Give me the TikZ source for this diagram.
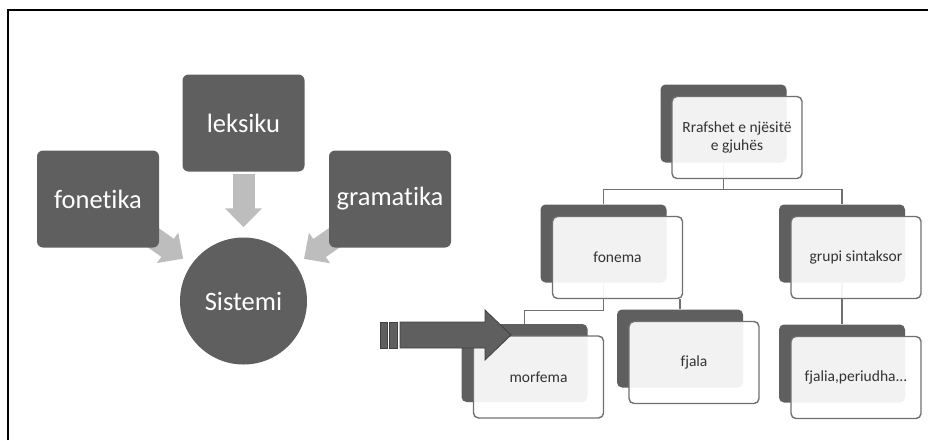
\documentclass[tikz,border=0pt]{standalone}
\usepackage{fontspec}
\setmainfont[Ligatures=NoCommon]{Carlito}
\usepackage{tikz}
\usetikzlibrary{arrows.meta}
\usetikzlibrary{backgrounds}

\definecolor{boxgray}{HTML}{5F5F5F}
\definecolor{arrowgray}{HTML}{BDBDBD}
\definecolor{linegray}{HTML}{707070}
\definecolor{textgray}{HTML}{333333}

\tikzset{
	darkbox/.style={fill=boxgray, rounded corners=6pt, inner sep=0pt,
		minimum width=122pt, minimum height=97pt, text=white,
		font=\fontsize{26.5}{30}\selectfont},
	backbox/.style={fill=boxgray, rounded corners=5pt, inner sep=0pt,
		minimum width=126pt, minimum height=78pt},
	frontbox/.style={draw=linegray, line width=1.4pt, fill=white,
		fill opacity=0.92, text opacity=1, rounded corners=5pt, inner sep=0pt,
		minimum width=130pt, minimum height=82pt, text=textgray, align=center,
		font=\fontsize{15.5}{18}\selectfont},
	fatarrow/.style={draw=arrowgray, line width=22pt,
		-{Triangle[length=19pt,width=36pt]}},
	conn/.style={draw=linegray, line width=1.5pt},
	stripe/.style={fill=boxgray, draw=black!75, line width=0.8pt}
}

\begin{document}
\begin{tikzpicture}[x=1pt,y=-1pt]
		\useasboundingbox (0,0) rectangle (928,440);
		\draw [line width=2.5pt] (8,440) -- (8,10) -- (928,10);
		
		% left: Sistemi
		\node [darkbox] (leks) at (243.5,123) {leksiku};
		\node [darkbox] (fonet) at (98,199) {fonetika};
		\node [darkbox] (gram) at (390,199) {gramatika};
		\node [circle, fill=boxgray, inner sep=0pt, minimum size=127pt, text=white,
			font=\fontsize{26.5}{30}\selectfont] (sis) at (243.5,301) {Sistemi};
		
		% right: tree
		\node [backbox] (Bt) at (723.5,123.5) {};
		\node [frontbox] (Ft) at (737,137.5) {Rrafshet e njësitë\\e gjuhës};
		\node [backbox] (Bfon) at (603.5,243.5) {};
		\node [frontbox] (Ffon) at (617.5,257.5) {fonema};
		\node [backbox] (Bgru) at (842,243.5) {};
		\node [frontbox] (Fgru) at (856,257.5) {grupi sintaksor};
		\node [backbox] (Bmor) at (524.5,363) {};
		\node [frontbox] (Fmor) at (538.5,377) {morfema};
		\node [backbox] (Bfja) at (680,348.5) {};
		\node [frontbox] (Ffja) at (694,362.5) {fjala};
		\node [backbox] (Bper) at (842,363.5) {};
		\node [frontbox] (Fper) at (856,377.5) {fjalia,periudha...};
		
		\begin{scope}[on background layer]
			\draw [fatarrow, shorten <=2pt, shorten >=10pt] (leks) -- (sis);
			\draw [fatarrow, shorten <=-12pt, shorten >=10pt] (fonet) -- (sis);
			\draw [fatarrow, shorten <=-12pt, shorten >=10pt] (gram) -- (sis);
			
			\draw [conn] (Bt.south) -- ++(0,27) -| (Bfon.north);
			\draw [conn] (Bt.south) -- ++(0,27) -| (Bgru.north);
			\draw [conn] (Bfon.south) -- ++(0,28) -| (Bmor.north);
			\draw [conn] (Bfja.north) -- (Bfja.north |- Ffon.south);
			\draw [conn] (Bgru.south) -- (Bper.north);
		\end{scope}
		
		% big arrow
		\draw [stripe] (380,322) rectangle (387,348);
		\draw [stripe] (389,322) rectangle (397,348);
		\draw [stripe] (400,322) -- (485,322) -- (485,310) -- (511,335)
			-- (485,360) -- (485,348) -- (400,348) -- cycle;
	\end{tikzpicture}
\end{document}
